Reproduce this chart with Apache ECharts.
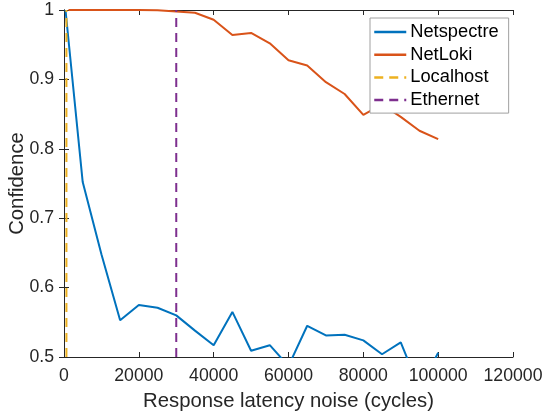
<!DOCTYPE html>
<html>
<head>
<meta charset="utf-8">
<script src="https://cdn.jsdelivr.net/npm/echarts@6/dist/echarts.min.js"></script>
<style>html,body{margin:0;padding:0;background:#fff}#c{width:544px;height:415px}</style>
</head>
<body>
<div id="c"></div>
<script>
var seriesNames = ['Netspectre', 'NetLoki', 'Localhost', 'Ethernet'];
var xNetspectre = [400, 5000, 10000, 15000, 20000, 25000, 30000, 35000, 40000, 45000, 50000, 55000, 60000, 65000, 70000, 75000, 80000, 85000, 90000, 95000, 100000];
var netspectre = [1.0, 0.752, 0.648, 0.553, 0.575, 0.571, 0.560, 0.538, 0.517, 0.565, 0.509, 0.517, 0.487, 0.545, 0.531, 0.532, 0.524, 0.504, 0.521, 0.455, 0.506];
var xNetLoki = [1200, 5000, 10000, 15000, 20000, 25000, 30000, 35000, 40000, 45000, 50000, 55000, 60000, 65000, 70000, 75000, 80000, 85000, 90000, 95000, 100000];
var netLoki = [1.0, 1.0, 1.0, 1.0, 1.0, 0.9995, 0.998, 0.996, 0.986, 0.964, 0.967, 0.952, 0.9275, 0.920, 0.896, 0.879, 0.849, 0.864, 0.846, 0.826, 0.814];
var localhostX = 650;
var ethernetX = 30000;
var yRange = [0.5, 1];
var xTicks = [0, 20000, 40000, 60000, 80000, 100000, 120000];
var yTicks = [0.5, 0.6, 0.7, 0.8, 0.9, 1];

function zip(xs, ys) { return xs.map(function (x, i) { return [x, ys[i]]; }); }

var font = 'Liberation Sans, Arial, Helvetica, sans-serif';
var txt = '#262626';
var colors = ['#0072BD', '#D95319', '#EDB120', '#7E2F8E'];

var chart = echarts.init(document.getElementById('c'));
var axisLine = { show: true, lineStyle: { color: txt, width: 1 } };
var tick = { show: true, inside: true, length: 5, lineStyle: { color: txt } };
chart.setOption({
  animation: false,
  textStyle: { fontFamily: font },
  grid: { left: 64, right: 31, top: 10, bottom: 58, containLabel: false, outerBoundsMode: 'none' },
  xAxis: [{
    type: 'value', min: xTicks[0], max: xTicks[xTicks.length - 1], interval: xTicks[1] - xTicks[0],
    name: 'Response latency noise (cycles)', nameLocation: 'middle', nameGap: 34, nameMoveOverlap: false,
    nameTextStyle: { color: txt, fontSize: 20.3, fontFamily: font },
    axisLine: axisLine, axisTick: tick,
    axisLabel: { color: txt, fontSize: 17.7, margin: 10, fontFamily: font, formatter: function (v) { return String(v); } },
    splitLine: { show: false }
  }, {
    type: 'value', position: 'top', min: xTicks[0], max: xTicks[xTicks.length - 1], interval: xTicks[1] - xTicks[0],
    axisLine: axisLine, axisTick: tick, axisLabel: { show: false }, splitLine: { show: false }
  }],
  yAxis: [{
    type: 'value', min: yRange[0], max: yRange[1], interval: 0.1,
    name: 'Confidence', nameLocation: 'middle', nameGap: 37, nameMoveOverlap: false,
    nameTextStyle: { color: txt, fontSize: 20.3, fontFamily: font },
    axisLine: axisLine, axisTick: tick,
    axisLabel: { color: txt, fontSize: 17.7, margin: 10, fontFamily: font, formatter: function (v) { return String(Math.round(v * 10) / 10); } },
    splitLine: { show: false }
  }, {
    type: 'value', position: 'right', min: yRange[0], max: yRange[1], interval: 0.1,
    axisLine: axisLine, axisTick: tick, axisLabel: { show: false }, splitLine: { show: false }
  }],
  legend: {
    orient: 'vertical', left: 370, top: 18,
    backgroundColor: '#fff', borderColor: '#a0a0a0', borderWidth: 1, borderRadius: 0,
    padding: [5, 10, 4, 3],
    itemWidth: 32, itemHeight: 18, itemGap: 4.7,
    itemStyle: { opacity: 0 },
    lineStyle: { width: 2.5 },
    textStyle: { color: '#000', fontSize: 18.3, fontFamily: font, padding: [0, 0, 0, -1] },
    data: seriesNames
  },
  series: [
    { name: seriesNames[0], type: 'line', data: zip(xNetspectre, netspectre), symbol: 'none', clip: true,
      lineStyle: { color: colors[0], width: 2 }, itemStyle: { color: colors[0] } },
    { name: seriesNames[1], type: 'line', data: zip(xNetLoki, netLoki), symbol: 'none', clip: true,
      lineStyle: { color: colors[1], width: 2 }, itemStyle: { color: colors[1] } },
    { name: seriesNames[2], type: 'line', data: [[localhostX, yRange[0]], [localhostX, yRange[1]]], symbol: 'none',
      lineStyle: { color: colors[2], width: 2, type: [9, 6] }, itemStyle: { color: colors[2] } },
    { name: seriesNames[3], type: 'line', data: [[ethernetX, yRange[0]], [ethernetX, yRange[1]]], symbol: 'none',
      lineStyle: { color: colors[3], width: 2, type: [9, 6] }, itemStyle: { color: colors[3] } }
  ]
});
</script>
</body>
</html>
